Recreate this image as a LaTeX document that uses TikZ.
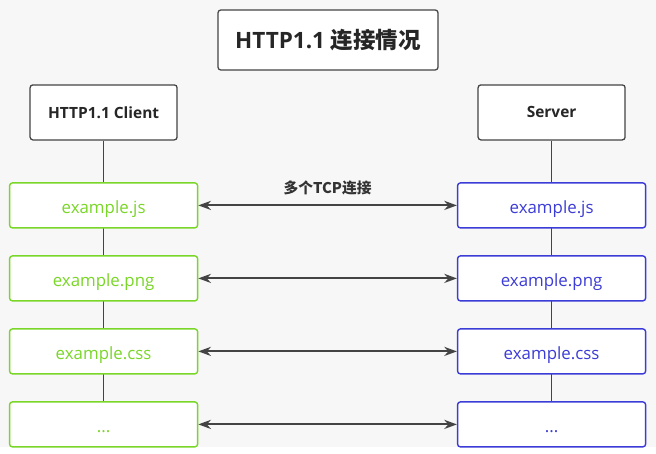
\documentclass[tikz,border=0pt]{standalone}
\usepackage{fontspec}
\setmainfont{Open Sans}
\newfontfamily\cjk{Noto Sans CJK SC}
\usepackage{tikz}
\usetikzlibrary{arrows.meta, positioning}
\definecolor{cgreen}{RGB}{122,214,40}
\definecolor{sblue}{RGB}{60,60,214}
\definecolor{bggray}{RGB}{247,247,247}
\definecolor{linegray}{RGB}{68,68,68}
\tikzstyle{titlebox} = [rectangle, rounded corners=2pt, minimum width=5.5cm, minimum height=1.5cm, text centered, draw=linegray, fill=white, line width=0.9pt, text=black!85, font=\fontsize{16}{19}\selectfont\bfseries]
\tikzstyle{endpoint} = [rectangle, rounded corners=2pt, minimum width=3.675cm, minimum height=1.375cm, text centered, draw=linegray, fill=white, line width=0.9pt, text=black!85, font=\fontsize{11}{13}\selectfont\bfseries]
\tikzstyle{client} = [rectangle, rounded corners=2pt, minimum width=4.7cm, minimum height=1.125cm, text centered, text height=12pt, text depth=0pt, draw=cgreen, fill=white, line width=1pt, text=cgreen, font=\fontsize{12}{14}\selectfont]
\tikzstyle{server} = [client, draw=sblue, text=sblue]
\tikzstyle{arrow} = [line width=1.3pt, draw=linegray, {Stealth[length=9pt,width=6.5pt]}-{Stealth[length=9pt,width=6.5pt]}]
\tikzstyle{life} = [line width=0.9pt, draw=linegray]
\begin{document}
\begin{tikzpicture}[node distance=1.825cm]
        \useasboundingbox (0,0) rectangle (16.4,-11.35);
        \fill [bggray] (0,0) rectangle (16.4,-11.18);

        \node (title) [titlebox] at (8.2,-1.0) {HTTP1.1 {\cjk 连接情况}};
        \node (client) [endpoint] at (2.59,-2.81) {HTTP1.1 Client};
        \node (server) [endpoint] at (13.79,-2.81) {Server};

        \coordinate (clientend) at (2.59,-11.18);
        \coordinate (serverend) at (13.79,-11.18);
        \draw [life] (client) -- (clientend);
        \draw [life] (server) -- (serverend);

        \node (cjs) [client, below of=client, yshift=-0.5cm] {example.js};
        \node (cpng) [client, below of=cjs] {example.png};
        \node (ccss) [client, below of=cpng] {example.css};
        \node (cmore) [client, below of=ccss] {...};

        \node (sjs) [server, below of=server, yshift=-0.5cm] {example.js};
        \node (spng) [server, below of=sjs] {example.png};
        \node (scss) [server, below of=spng] {example.css};
        \node (smore) [server, below of=scss] {...};

        \draw [arrow] (cjs) -- node[above=0.12cm, text=black!80, font=\cjk\fontsize{10.5}{12}\selectfont\bfseries] {多个TCP连接} (sjs);
        \draw [arrow] (cpng) -- (spng);
        \draw [arrow] (ccss) -- (scss);
        \draw [arrow] (cmore) -- (smore);

\end{tikzpicture}
\end{document}
